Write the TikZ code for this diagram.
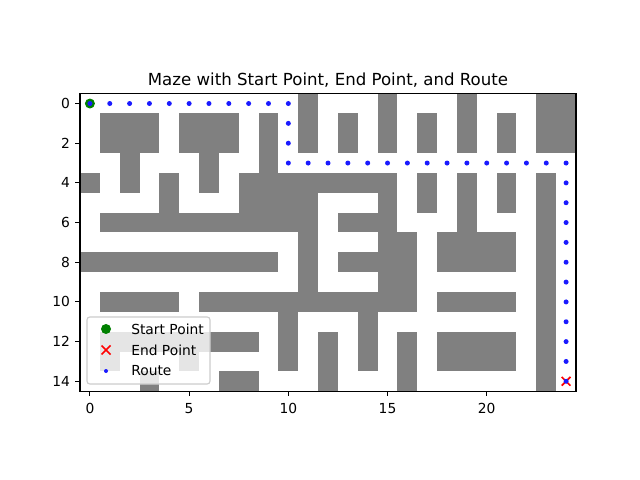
\documentclass[tikz,border=0pt]{standalone}
\usepackage{fontspec}
\setmainfont{DejaVu Sans}
\usetikzlibrary{positioning}

\definecolor{mplgreen}{HTML}{008000}
\definecolor{mplred}{HTML}{FF0000}
\definecolor{mplblue}{HTML}{1A1AFF}

\begin{document}
\begin{tikzpicture}[
    x=0.254mm, y=-0.254mm,
    wall/.style={fill=black!50},
    routedot/.style={fill=mplblue},
    axframe/.style={draw, line width=0.8pt},
    tickmark/.style={draw, line width=0.8pt},
    ticklabel/.style={font=\fontsize{10}{12}\selectfont, inner sep=0pt},
    legendbox/.style={draw=black!20, line width=0.8pt, fill=white, fill opacity=0.8, rounded corners=2pt},
    legendtext/.style={font=\fontsize{10}{12}\selectfont, inner sep=0pt, anchor=west}
]
\useasboundingbox (0,0) rectangle (640,480);

% Title
\node[font=\fontsize{12}{14}\selectfont, anchor=base] (title) at (328,85.3) {Maze with Start Point, End Point, and Route};

% Maze, one unit = one cell
\begin{scope}[xshift=22.8397mm, yshift=-26.294mm, x=5.03936mm, y=-5.03936mm]
    % Walls
    \foreach \xa/\ya/\xb/\yb in {11/0/11/2, 15/0/15/2, 19/0/19/2, 23/0/24/2,
        1/1/3/2, 5/1/7/2, 9/1/9/3, 13/1/13/2, 17/1/17/2, 21/1/21/2,
        2/3/2/4, 6/3/6/4, 0/4/0/4, 4/4/4/5, 8/4/15/4, 8/5/11/5, 15/5/15/5,
        17/4/17/5, 19/4/19/6, 21/4/21/5, 23/4/23/14,
        1/6/11/6, 13/6/15/6, 11/7/11/9, 15/7/16/7, 0/8/9/8, 13/8/16/8,
        15/9/16/9, 18/7/21/8, 1/10/4/10, 6/10/16/10, 18/10/21/10,
        10/11/10/13, 14/11/14/13, 1/12/8/12, 12/12/12/14, 16/12/16/14,
        18/12/21/13, 1/13/1/13, 5/13/5/13, 3/14/3/14, 7/14/8/14}
        \fill[wall] (\xa-0.5,\ya-0.5) rectangle (\xb+0.5,\yb+0.5);

    % Start and end
    \coordinate (start) at (0,0);
    \coordinate (goal) at (24,14);
    \fill[mplgreen] (start) circle [radius=0.252];
    \draw[mplred, line width=1.2pt] ([shift={(-0.22,-0.22)}]goal) -- ([shift={(0.22,0.22)}]goal)
        ([shift={(-0.22,0.22)}]goal) -- ([shift={(0.22,-0.22)}]goal);

    % Route
    \foreach \c in {0,...,10} \fill[routedot] (\c,0) circle [radius=0.126];
    \foreach \r in {1,2} \fill[routedot] (10,\r) circle [radius=0.126];
    \foreach \c in {10,...,24} \fill[routedot] (\c,3) circle [radius=0.126];
    \foreach \r in {4,...,14} \fill[routedot] (24,\r) circle [radius=0.126];
\end{scope}

% Axes
\draw[axframe] (80,93.6) rectangle (576,391.2);
\foreach \k in {0,5,10,15,20} {
    \draw[tickmark] ({89.92+19.84*\k},391.2) -- ++(0,4.86);
    \node[ticklabel] (xt\k) at ({89.92+19.84*\k},408.5) {\k};
}
\foreach \k in {0,2,...,14} {
    \draw[tickmark] (80,{103.52+19.84*\k}) -- ++(-4.86,0);
    \node[ticklabel, anchor=east] (yt\k) at (70.3,{103.52+19.84*\k}) {\k};
}

% Legend
\node[legendbox, minimum width=31.24mm, minimum height=17.02mm, inner sep=0pt] (legend) at (148.5,350.5) {};
\fill[mplgreen] (106,329) circle [radius=5];
\draw[mplred, line width=1.2pt] (101.5,345.5) -- (110.5,354.5) (101.5,354.5) -- (110.5,345.5);
\fill[routedot] (106,371) circle [radius=2];
\node[legendtext] (lstart) at (131,329) {Start Point};
\node[legendtext] (lend) at (131,350) {End Point};
\node[legendtext] (lroute) at (131,371) {Route};

\end{tikzpicture}
\end{document}
